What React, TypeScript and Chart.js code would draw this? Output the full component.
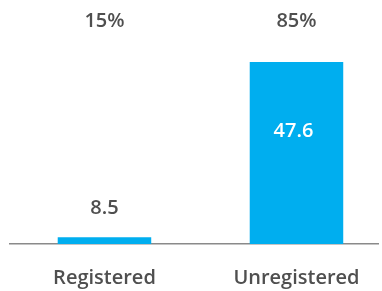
import React, { useEffect, useRef } from "react";
import { Chart, registerables } from "chart.js";

Chart.register(...registerables);

const categories = ["Registered", "Unregistered"];
const values = [8.5, 47.6];
const shares = ["15%", "85%"];

const BAR_COLOR = "#00AEEF";
const TEXT_COLOR = "#4f4f4f";
const FONT = "'Open Sans', 'Noto Sans', sans-serif";
const FONT_SIZE = 20;
const FONT_WEIGHT = "600";

const labelPlugin = {
  id: "barLabels",
  afterDatasetsDraw(chart: any) {
    const { ctx, chartArea } = chart;
    const meta = chart.getDatasetMeta(0);
    ctx.save();
    ctx.textAlign = "center";
    ctx.textBaseline = "middle";
    ctx.font = `${FONT_WEIGHT} ${FONT_SIZE}px ${FONT}`;
    meta.data.forEach((bar: any, i: number) => {
      const v = values[i];
      const x = bar.x;
      ctx.fillStyle = TEXT_COLOR;
      ctx.fillText(shares[i], x, 21);
      const h = chartArea.bottom - bar.y;
      if (h > 60) {
        ctx.fillStyle = "#ffffff";
        ctx.fillText(String(v), x - 3, bar.y + h * 0.38);
      } else {
        ctx.fillStyle = TEXT_COLOR;
        ctx.fillText(String(v), x, bar.y - 29);
      }
    });
    ctx.restore();
  },
};

export default function App() {
  const ref = useRef<HTMLCanvasElement | null>(null);
  useEffect(() => {
    if (!ref.current) return;
    const chart = new Chart(ref.current, {
      type: "bar",
      data: {
        datasets: [
          {
            data: values.map((v, i) => ({ x: i, y: v })),
            backgroundColor: BAR_COLOR,
            borderWidth: 0,
            categoryPercentage: 1,
            barPercentage: 0.487,
          },
        ],
      },
      options: {
        animation: false,
        responsive: false,
        maintainAspectRatio: false,
        layout: { padding: { left: 10, right: 2, top: 40, bottom: 0 } },
        plugins: {
          legend: { display: false },
          tooltip: { enabled: false },
          title: { display: false },
        },
        scales: {
          x: {
            type: "linear",
            offset: false,
            min: -0.492,
            max: 1.425,
            grid: { display: false, drawTicks: false },
            border: { display: true, color: "#8a8a8a", width: 1.5 },
            afterBuildTicks: (axis: any) => {
              axis.ticks = categories.map((_, i) => ({ value: i }));
            },
            afterFit: (axis: any) => {
              axis.height = 47;
            },
            ticks: {
              padding: 22,
              color: TEXT_COLOR,
              font: { family: FONT, size: FONT_SIZE, weight: FONT_WEIGHT },
              callback: (val: any) => categories[Math.round(Number(val))] ?? "",
              autoSkip: false,
              maxRotation: 0,
            },
          },
          y: {
            display: false,
            min: 7,
            max: 52.5,
          },
        },
      },
      plugins: [labelPlugin],
    });
    return () => chart.destroy();
  }, []);
  return (
    <div style={{ position: "fixed", left: 0, top: 0, width: 382, height: 291, background: "#fff" }}>
      <canvas ref={ref} width={382} height={291} style={{ width: 382, height: 291 }} />
    </div>
  );
}
